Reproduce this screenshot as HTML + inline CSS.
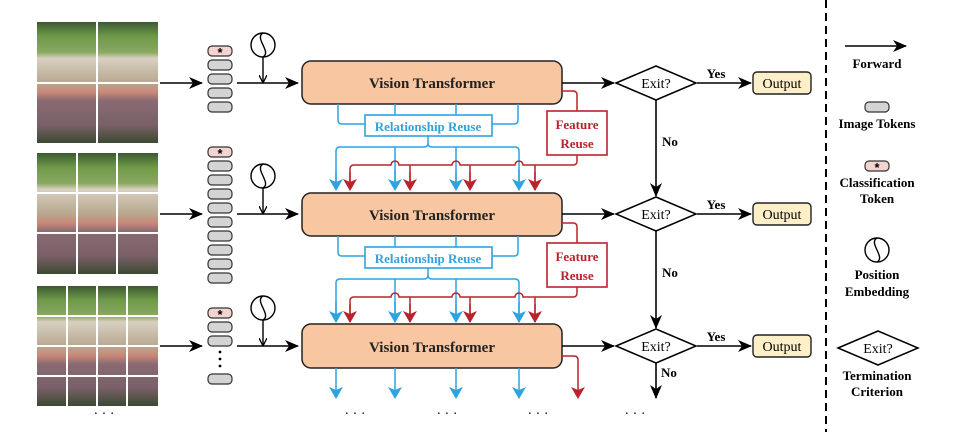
<!DOCTYPE html>
<html><head><meta charset="utf-8"><style>
html,body{margin:0;padding:0;background:#fff;}
svg{display:block;font-family:"Liberation Serif",serif;font-weight:bold;}
</style></head><body>
<svg width="958" height="432" viewBox="0 0 958 432" xmlns="http://www.w3.org/2000/svg">
<defs>
<marker id="ak" markerWidth="14" markerHeight="12" refX="13" refY="6" orient="auto" markerUnits="userSpaceOnUse"><path d="M0,0 L14,6 L0,12 L4,6 Z" fill="#000"/></marker>
<marker id="ab" markerWidth="12" markerHeight="14" refX="11" refY="7" orient="auto" markerUnits="userSpaceOnUse"><path d="M0,0 L12,7 L0,14 L3,7 Z" fill="#2ea3e0"/></marker>
<marker id="ar" markerWidth="12" markerHeight="14" refX="11" refY="7" orient="auto" markerUnits="userSpaceOnUse"><path d="M0,0 L12,7 L0,14 L3,7 Z" fill="#b8242c"/></marker>
<marker id="as" markerWidth="8" markerHeight="8" refX="7" refY="4" orient="auto" markerUnits="userSpaceOnUse"><path d="M0,0 L8,4 L0,8" fill="none" stroke="#000" stroke-width="1.3"/></marker>
<linearGradient id="ph" x1="0" y1="0" x2="0" y2="1">
<stop offset="0" stop-color="#3c5a30"/><stop offset="0.12" stop-color="#6f9a4a"/><stop offset="0.25" stop-color="#8aa860"/>
<stop offset="0.3" stop-color="#d8d0c0"/><stop offset="0.5" stop-color="#b8a890"/><stop offset="0.58" stop-color="#c98878"/>
<stop offset="0.65" stop-color="#8a6a72"/><stop offset="0.85" stop-color="#7a6068"/><stop offset="1" stop-color="#3a4a30"/>
</linearGradient>
</defs>

<!-- photos -->
<rect x="37" y="22" width="121" height="121" fill="url(#ph)"/>
<g stroke="#fff" stroke-width="2"><line x1="97" y1="22" x2="97" y2="143"/><line x1="37" y1="83" x2="158" y2="83"/></g>
<rect x="37" y="153" width="121" height="121" fill="url(#ph)"/>
<g stroke="#fff" stroke-width="2"><line x1="77" y1="153" x2="77" y2="274"/><line x1="117" y1="153" x2="117" y2="274"/><line x1="37" y1="193" x2="158" y2="193"/><line x1="37" y1="233" x2="158" y2="233"/></g>
<rect x="37" y="286" width="121" height="120" fill="url(#ph)"/>
<g stroke="#fff" stroke-width="2"><line x1="67" y1="286" x2="67" y2="406"/><line x1="97" y1="286" x2="97" y2="406"/><line x1="127" y1="286" x2="127" y2="406"/><line x1="37" y1="316" x2="158" y2="316"/><line x1="37" y1="346" x2="158" y2="346"/><line x1="37" y1="376" x2="158" y2="376"/></g>

<!-- image -> tokens arrows -->
<g stroke="#000" stroke-width="1.6" fill="none" marker-end="url(#ak)">
<line x1="160" y1="83" x2="202" y2="83"/><line x1="160" y1="214" x2="202" y2="214"/><line x1="160" y1="346" x2="202" y2="346"/>
<line x1="237" y1="83" x2="298" y2="83"/><line x1="237" y1="214" x2="298" y2="214"/><line x1="237" y1="346" x2="298" y2="346"/>
</g>

<!-- tokens -->
<g stroke="#333" stroke-width="1.2">
<rect x="208" y="46" width="24" height="10" rx="4" fill="#f3d4d0"/>
<rect x="208" y="60" width="24" height="10" rx="4" fill="#d4d4d4"/>
<rect x="208" y="74" width="24" height="10" rx="4" fill="#d4d4d4"/>
<rect x="208" y="88" width="24" height="10" rx="4" fill="#d4d4d4"/>
<rect x="208" y="102" width="24" height="10" rx="4" fill="#d4d4d4"/>
<rect x="208" y="147" width="24" height="10" rx="4" fill="#f3d4d0"/>
<rect x="208" y="161" width="24" height="10" rx="4" fill="#d4d4d4"/>
<rect x="208" y="175" width="24" height="10" rx="4" fill="#d4d4d4"/>
<rect x="208" y="189" width="24" height="10" rx="4" fill="#d4d4d4"/>
<rect x="208" y="203" width="24" height="10" rx="4" fill="#d4d4d4"/>
<rect x="208" y="217" width="24" height="10" rx="4" fill="#d4d4d4"/>
<rect x="208" y="231" width="24" height="10" rx="4" fill="#d4d4d4"/>
<rect x="208" y="245" width="24" height="10" rx="4" fill="#d4d4d4"/>
<rect x="208" y="259" width="24" height="10" rx="4" fill="#d4d4d4"/>
<rect x="208" y="273" width="24" height="10" rx="4" fill="#d4d4d4"/>
<rect x="208" y="308" width="24" height="10" rx="4" fill="#f3d4d0"/>
<rect x="208" y="322" width="24" height="10" rx="4" fill="#d4d4d4"/>
<rect x="208" y="336" width="24" height="10" rx="4" fill="#d4d4d4"/>
<rect x="208" y="374" width="24" height="10" rx="4" fill="#d4d4d4"/>
<rect x="865" y="102" width="24" height="10" rx="4" fill="#d4d4d4"/>
<rect x="865" y="161" width="24" height="10" rx="4" fill="#f3d4d0"/>
</g>
<g font-size="13" text-anchor="middle" font-family="Liberation Sans,sans-serif">
<text x="220" y="57">*</text><text x="220" y="158">*</text><text x="220" y="319">*</text><text x="877" y="172">*</text>
</g>
<g fill="#000"><circle cx="220" cy="352" r="1.4"/><circle cx="220" cy="359" r="1.4"/><circle cx="220" cy="366" r="1.4"/></g>

<!-- position embeddings -->
<g fill="none" stroke="#000" stroke-width="1.4">
<g id="pe"><circle cx="263" cy="45" r="12"/><path d="M263,33 C254,38 272,52 263,57"/><line x1="263" y1="57" x2="263" y2="82" marker-end="url(#as)"/></g>
<use href="#pe" y="131"/><use href="#pe" y="263"/>
<circle cx="877" cy="250" r="12"/><path d="M877,238 C868,243 886,257 877,262"/>
</g>

<!-- VT boxes -->
<g fill="#f8c6a0" stroke="#222" stroke-width="1.5">
<rect x="302" y="61" width="260" height="43" rx="9"/>
<rect x="302" y="193" width="260" height="43" rx="9"/>
<rect x="302" y="324" width="260" height="44" rx="9"/>
</g>
<g font-size="15" text-anchor="middle" fill="#222">
<text x="432" y="88">Vision Transformer</text><text x="432" y="220">Vision Transformer</text><text x="432" y="352">Vision Transformer</text>
</g>

<!-- reuse connectors between rows -->
<g id="reuse">
<path d="M338,104 V120 Q338,124 342,124 H514 Q518,124 518,120 V104 M395,104 V124 M456,104 V124" fill="none" stroke="#2ea3e0" stroke-width="1.5"/>
<rect x="365" y="115" width="127" height="21" fill="#fff" stroke="#2ea3e0" stroke-width="1.6"/>
<text x="428" y="131" font-size="13" fill="#2ea3e0" text-anchor="middle">Relationship Reuse</text>
<path d="M428,136 V143 Q428,147 432,147 H515 Q519,147 519,151 V190 M428,143 Q428,147 424,147 H340 Q336,147 336,151 V190 M395,147 V190 M456,147 V190" fill="none" stroke="#2ea3e0" stroke-width="1.5"/>
<g stroke="#2ea3e0" stroke-width="1.5"><line x1="336" y1="170" x2="336" y2="190" marker-end="url(#ab)"/><line x1="395" y1="170" x2="395" y2="190" marker-end="url(#ab)"/><line x1="456" y1="170" x2="456" y2="190" marker-end="url(#ab)"/><line x1="519" y1="170" x2="519" y2="190" marker-end="url(#ab)"/></g>
<path d="M562,91 H573 Q577,91 577,95 V111" fill="none" stroke="#b8242c" stroke-width="1.5"/>
<rect x="547" y="111" width="60" height="44" fill="#fff" stroke="#b8242c" stroke-width="1.6"/>
<text x="577" y="129" font-size="13" fill="#b8242c" text-anchor="middle">Feature</text>
<text x="577" y="148" font-size="13" fill="#b8242c" text-anchor="middle">Reuse</text>
<path d="M577,155 V161 Q577,165 573,165 H523 a4,4 0 0 0 -8,0 H460 a4,4 0 0 0 -8,0 H399 a4,4 0 0 0 -8,0 H354 Q350,165 350,169 V190 M410,165 V190 M470,165 V190 M535,165 V190" fill="none" stroke="#b8242c" stroke-width="1.5"/>
<g stroke="#b8242c" stroke-width="1.5"><line x1="350" y1="172" x2="350" y2="190" marker-end="url(#ar)"/><line x1="410" y1="172" x2="410" y2="190" marker-end="url(#ar)"/><line x1="470" y1="172" x2="470" y2="190" marker-end="url(#ar)"/><line x1="535" y1="172" x2="535" y2="190" marker-end="url(#ar)"/></g>
</g>
<use href="#reuse" y="132"/>

<!-- bottom row outgoing -->
<g stroke="#2ea3e0" stroke-width="1.5"><line x1="336" y1="368" x2="336" y2="398" marker-end="url(#ab)"/><line x1="395" y1="368" x2="395" y2="398" marker-end="url(#ab)"/><line x1="456" y1="368" x2="456" y2="398" marker-end="url(#ab)"/><line x1="519" y1="368" x2="519" y2="398" marker-end="url(#ab)"/></g>
<path d="M562,356 H574 Q578,356 578,360 V398" fill="none" stroke="#b8242c" stroke-width="1.5" marker-end="url(#ar)"/>

<!-- exits -->
<g stroke="#000" stroke-width="1.6" fill="none" marker-end="url(#ak)">
<line x1="562" y1="83" x2="614" y2="83"/><line x1="562" y1="214" x2="614" y2="214"/><line x1="562" y1="346" x2="614" y2="346"/>
<line x1="697" y1="83" x2="751" y2="83"/><line x1="697" y1="214" x2="751" y2="214"/><line x1="697" y1="346" x2="751" y2="346"/>
<line x1="656" y1="100" x2="656" y2="196"/><line x1="656" y1="231" x2="656" y2="328"/><line x1="656" y1="363" x2="656" y2="398"/>
<line x1="845" y1="46" x2="906" y2="46"/>
</g>
<g fill="#fff" stroke="#000" stroke-width="1.5">
<path d="M616,83 L656,66 L696,83 L656,100 Z"/>
<path d="M616,214 L656,197 L696,214 L656,231 Z"/>
<path d="M616,346 L656,329 L696,346 L656,363 Z"/>
<path d="M838,348 L878,331 L918,348 L878,365 Z"/>
</g>
<g fill="#fdf0c8" stroke="#222" stroke-width="1.4">
<rect x="753" y="72" width="58" height="22" rx="4"/><rect x="753" y="203" width="58" height="22" rx="4"/><rect x="753" y="335" width="58" height="22" rx="4"/>
</g>
<g font-size="14" text-anchor="middle" font-weight="normal">
<text x="656" y="88">Exit?</text><text x="656" y="219">Exit?</text><text x="656" y="351">Exit?</text><text x="878" y="353">Exit?</text>
<text x="782" y="88">Output</text><text x="782" y="219">Output</text><text x="782" y="351">Output</text>
</g>
<g font-size="13" text-anchor="middle">
<text x="716" y="78">Yes</text><text x="716" y="209">Yes</text><text x="716" y="341">Yes</text>
<text x="670" y="146">No</text><text x="670" y="277">No</text><text x="669" y="377">No</text>
<text x="877" y="68">Forward</text>
<text x="877" y="128">Image Tokens</text>
<text x="877" y="187">Classification</text><text x="877" y="203">Token</text>
<text x="877" y="279">Position</text><text x="877" y="296">Embedding</text>
<text x="877" y="380">Termination</text><text x="877" y="396">Criterion</text>
</g>
<line x1="826" y1="0" x2="826" y2="432" stroke="#000" stroke-width="2" stroke-dasharray="8,5"/>
<g font-size="14" text-anchor="middle" font-weight="normal">
<text x="104" y="418">· · ·</text><text x="355" y="418">· · ·</text><text x="447" y="418">· · ·</text><text x="538" y="418">· · ·</text><text x="635" y="418">· · ·</text>
</g>
</svg>
</body></html>
